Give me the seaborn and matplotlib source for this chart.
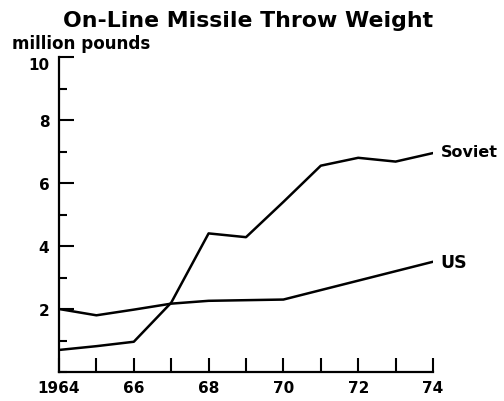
import matplotlib
matplotlib.use("Agg")
import matplotlib.pyplot as plt
import seaborn as sns
import pandas as pd
from matplotlib.ticker import MultipleLocator

years = [1964, 1965, 1966, 1967, 1968, 1969, 1970, 1971, 1972, 1973, 1974]
soviet = [0.7, 0.82, 0.96, 2.2, 4.4, 4.28, 5.4, 6.55, 6.8, 6.68, 6.95]
us = [2.0, 1.8, 1.98, 2.17, 2.26, 2.28, 2.3, 2.6, 2.9, 3.2, 3.5]
series_names = ["Soviet", "US"]
x_tick_labels = ["1964", "66", "68", "70", "72", "74"]
y_tick_labels = ["2", "4", "6", "8", "10"]

df = pd.DataFrame({
    "year": years * 2,
    "value": soviet + us,
    "series": [series_names[0]] * len(years) + [series_names[1]] * len(years),
})

sns.set_style("white")
plt.rcParams["font.family"] = ["DejaVu Sans"]
plt.rcParams["font.weight"] = "bold"
plt.rcParams["text.color"] = "black"

fig = plt.figure(figsize=(5.04, 4.02), dpi=100)
ax = fig.add_axes([59 / 504, 1 - 373 / 402, (433 - 59) / 504, (373 - 58) / 402])

sns.lineplot(data=df, x="year", y="value", hue="series",
             palette={"Soviet": "black", "US": "black"},
             linewidth=1.8, legend=False, ax=ax, estimator=None)

ax.set_xlim(1964, 1974)
ax.set_ylim(0, 10)
for s in ["top", "right"]:
    ax.spines[s].set_visible(False)
for s in ["left", "bottom"]:
    ax.spines[s].set_linewidth(1.6)
    ax.spines[s].set_color("black")

ax.set_xticks([1964, 1966, 1968, 1970, 1972, 1974])
ax.set_xticklabels(x_tick_labels)
ax.xaxis.set_minor_locator(MultipleLocator(1))
ax.set_yticks([2, 4, 6, 8, 10])
ax.set_yticklabels(y_tick_labels)
ax.yaxis.set_minor_locator(MultipleLocator(1))

ax.tick_params(axis="x", which="both", bottom=True, direction="in", length=10,
               width=1.5, pad=6, labelsize=11, colors="black")
ax.tick_params(axis="y", which="major", left=True, direction="in", length=11,
               width=1.5, pad=7, labelsize=11, colors="black")
ax.tick_params(axis="y", which="minor", left=True, direction="in", length=6,
               width=1.5, colors="black")
for lab in ax.get_xticklabels() + ax.get_yticklabels():
    lab.set_fontweight("bold")
ax.get_yticklabels()[-1].set_verticalalignment("top")

ax.set_xlabel("")
ax.set_ylabel("")

ax.text(1974.2, soviet[-1] + 0.05, series_names[0], fontsize=11.5,
        fontweight="bold", va="center", ha="left", clip_on=False, color="black")
ax.text(1974.2, us[-1], series_names[1], fontsize=12.5,
        fontweight="bold", va="center", ha="left", clip_on=False, color="black")

fig.text(63 / 504, 1 - 27 / 402, "On-Line Missile Throw Weight",
         fontsize=15.8, fontweight="bold", ha="left", va="baseline", color="black")
fig.text(12 / 504, 1 - 49 / 402, "million pounds",
         fontsize=12.1, fontweight="bold", ha="left", va="baseline", color="black")

fig.savefig("out.png", dpi=100)
